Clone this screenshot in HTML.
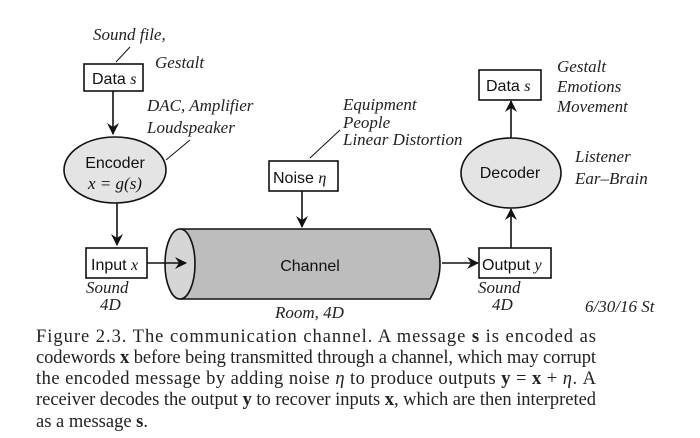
<!DOCTYPE html>
<html><head><meta charset="utf-8"><style>
html,body{margin:0;padding:0;background:#fff;}
svg{display:block}
.h{font-family:"Liberation Serif",serif;font-style:italic;font-size:17px;fill:#222}
.b{font-family:"Liberation Sans",sans-serif;font-size:16px;fill:#111}
.c{font-family:"Liberation Serif",serif;font-size:18.5px;fill:#222}
</style></head><body>
<svg width="700" height="438" viewBox="0 0 700 438" xmlns="http://www.w3.org/2000/svg">
<defs><marker id="a" markerWidth="12" markerHeight="12" refX="11" refY="6" orient="auto" markerUnits="userSpaceOnUse"><path d="M0,0 L12,6 L0,12 L4,6 Z" fill="#111"/></marker></defs>
<g stroke="#111" stroke-width="1.6" fill="none">
<rect x="84" y="64" width="59" height="27" fill="#fff"/>
<line x1="113" y1="91" x2="113" y2="134" marker-end="url(#a)"/>
<ellipse cx="115" cy="170" rx="51" ry="33" fill="#e4e4e4"/>
<line x1="117" y1="203" x2="117" y2="245" marker-end="url(#a)"/>
<rect x="86" y="248" width="61" height="30" fill="#fff"/>
<path d="M180,229 L430,229 Q450,264 430,299 L180,299" fill="#bdbdbd"/>
<ellipse cx="180" cy="264" rx="15" ry="35" fill="#d6d6d6"/>
<line x1="147" y1="263" x2="186" y2="263" marker-end="url(#a)"/>
<rect x="269" y="161" width="69" height="30" fill="#fff"/>
<line x1="302" y1="191" x2="302" y2="227" marker-end="url(#a)"/>
<line x1="442" y1="263" x2="478" y2="263" marker-end="url(#a)"/>
<rect x="479" y="248" width="72" height="30" fill="#fff"/>
<line x1="511" y1="248" x2="511" y2="209" marker-end="url(#a)"/>
<ellipse cx="511" cy="173" rx="50" ry="35" fill="#e4e4e4"/>
<line x1="511" y1="138" x2="511" y2="101" marker-end="url(#a)"/>
<rect x="479" y="70" width="62" height="30" fill="#fff"/>
<line x1="116" y1="62" x2="130" y2="47" stroke-width="1"/>
<line x1="166" y1="160" x2="190" y2="140" stroke-width="1"/>
<line x1="310" y1="158" x2="340" y2="130" stroke-width="1"/>
</g>
<text class="b" x="92" y="84">Data <tspan font-family="Liberation Serif" font-style="italic">s</tspan></text>
<text class="b" x="115" y="168" text-anchor="middle" font-size="17">Encoder</text>
<text x="115" y="189" text-anchor="middle" font-family="Liberation Serif" font-size="17" font-style="italic" fill="#111">x = g(s)</text>
<text class="b" x="91" y="270">Input <tspan font-family="Liberation Serif" font-style="italic">x</tspan></text>
<text class="b" x="273" y="183">Noise <tspan font-family="Liberation Serif" font-style="italic">η</tspan></text>
<text class="b" x="310" y="271" text-anchor="middle" font-size="20">Channel</text>
<text class="b" x="482" y="270">Output <tspan font-family="Liberation Serif" font-style="italic">y</tspan></text>
<text class="b" x="510" y="178" text-anchor="middle" font-size="17">Decoder</text>
<text class="b" x="486" y="91">Data <tspan font-family="Liberation Serif" font-style="italic">s</tspan></text>
<text class="h" x="93" y="40">Sound file,</text>
<text class="h" x="155" y="68">Gestalt</text>
<text class="h" x="147" y="111">DAC, Amplifier</text>
<text class="h" x="147" y="133">Loudspeaker</text>
<text class="h" x="343" y="110" font-size="15">Equipment</text>
<text class="h" x="343" y="128" font-size="15">People</text>
<text class="h" x="343" y="145" font-size="15">Linear Distortion</text>
<text class="h" x="557" y="72">Gestalt</text>
<text class="h" x="557" y="92">Emotions</text>
<text class="h" x="557" y="112">Movement</text>
<text class="h" x="575" y="162">Listener</text>
<text class="h" x="575" y="184">Ear–Brain</text>
<text class="h" x="86" y="293">Sound</text>
<text class="h" x="100" y="310">4D</text>
<text class="h" x="478" y="293">Sound</text>
<text class="h" x="492" y="310">4D</text>
<text class="h" x="275" y="318">Room, 4D</text>
<text class="h" x="585" y="312">6/30/16 St</text>
<text class="c" x="36" y="342" textLength="560" lengthAdjust="spacing">Figure 2.3.   The communication channel.   A message <tspan font-weight="bold">s</tspan> is encoded as</text>
<text class="c" x="36" y="363" textLength="560" lengthAdjust="spacing">codewords <tspan font-weight="bold">x</tspan> before being transmitted through a channel, which may corrupt</text>
<text class="c" x="36" y="384" textLength="560" lengthAdjust="spacing">the encoded message by adding noise <tspan font-style="italic">η</tspan> to produce outputs <tspan font-weight="bold">y</tspan> = <tspan font-weight="bold">x</tspan> + <tspan font-style="italic">η</tspan>.  A</text>
<text class="c" x="36" y="405" textLength="560" lengthAdjust="spacing">receiver decodes the output <tspan font-weight="bold">y</tspan> to recover inputs <tspan font-weight="bold">x</tspan>, which are then interpreted</text>
<text class="c" x="36" y="427">as a message <tspan font-weight="bold">s</tspan>.</text>
</svg>
</body></html>
